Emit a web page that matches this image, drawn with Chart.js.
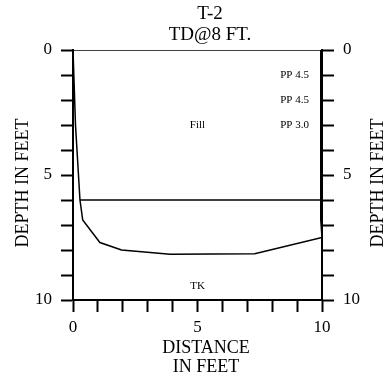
<!DOCTYPE html>
<html>
<head>
<meta charset="utf-8">
<script src="https://cdn.jsdelivr.net/npm/chart.js@4.4.1/dist/chart.umd.min.js"></script>
<style>
  html, body { margin: 0; padding: 0; background: #fff; }
  canvas { display: block; }
</style>
</head>
<body>
<canvas id="chart" width="386" height="378"></canvas>
<script>
// Titulo do perfil
const titleLines = ['T-2', 'TD@8 FT.'];
const xTitleLines = ['DISTANCE', 'IN FEET'];
const yTitle = 'DEPTH IN FEET';

// Rótulos dos eixos (apenas 0, 5, 10 recebem texto)
const labeledTicks = [0, 5, 10];

// Superfície do terreno
const surfaceX = [0, 10];
const surfaceY = [0, 0];

// Contorno da escavação (parede esquerda, fundo, parede direita)
const profileX = [0, 0.1, 0.28, 0.39, 1.08, 1.95, 3.9, 7.3, 10, 9.95, 9.95];
const profileY = [0, 3, 6, 6.8, 7.7, 8.0, 8.17, 8.15, 7.5, 6.8, 0];

// Contato Fill / TK
const contactX = [0.28, 10];
const contactY = [6, 6];

// Anotações
const noteText = ['PP 4.5', 'PP 4.5', 'PP 3.0', 'Fill', 'TK'];
const noteX = [8.9, 8.9, 8.9, 5, 5];
const noteY = [1, 2, 3, 3, 9.45];

const toPoints = (xs, ys) => xs.map((x, i) => ({x: x, y: ys[i]}));

const serif = 'Liberation Serif, Times New Roman, serif';

// Eixo de profundidade (usado nos dois lados)
function depthAxis(position, width) {
    return {
        type: 'linear',
        position: position,
        reverse: true,
        min: 0,
        max: 10,
        border: { display: true, color: '#000', width: 2 },
        grid: {
            drawOnChartArea: false,
            drawTicks: true,
            tickLength: 12,
            tickWidth: 2,
            tickColor: '#000'
        },
        ticks: {
            stepSize: 1,
            autoSkip: false,
            padding: 9,
            color: '#000',
            font: { family: serif, size: 17 },
            callback: v => labeledTicks.includes(v) ? String(v) : ''
        },
        afterFit: s => { s.width = width; }
    };
}

// Títulos desenhados à mão (posição deslocada como no original)
const textPlugin = {
    id: 'texts',
    afterDraw(chart) {
        const c = chart.ctx;
        const xs = chart.scales.x, ys = chart.scales.y;
        c.save();
        c.fillStyle = '#000';
        c.textAlign = 'center';
        c.textBaseline = 'middle';

        // título
        c.font = '19px ' + serif;
        c.fillText(titleLines[0], 210, 14);
        c.fillText(titleLines[1], 210, 35);

        // título do eixo X
        c.font = '18px ' + serif;
        c.fillText(xTitleLines[0], 206, 348);
        c.fillText(xTitleLines[1], 206, 367);

        // títulos dos eixos de profundidade (lidos de baixo para cima)
        [23, 378].forEach(px => {
            c.save();
            c.translate(px, 183);
            c.rotate(-Math.PI / 2);
            c.fillText(yTitle, 0, 0);
            c.restore();
        });

        // anotações
        c.font = '11px ' + serif;
        noteText.forEach((t, i) => {
            c.fillText(t, xs.getPixelForValue(noteX[i]), ys.getPixelForValue(noteY[i]));
        });
        c.restore();
    }
};

const lineStyle = {
    showLine: true,
    borderColor: '#000',
    backgroundColor: '#000',
    pointRadius: 0,
    fill: false,
    tension: 0,
    borderWidth: 1.5
};

let ctx = document.getElementById('chart');

let chart = new Chart(ctx, {
    type: 'scatter',
    data: {
        datasets: [
            Object.assign({ label: 'Superfície', data: toPoints(surfaceX, surfaceY) }, lineStyle),
            Object.assign({ label: 'Contorno', data: toPoints(profileX, profileY) }, lineStyle),
            Object.assign({ label: 'Contato', data: toPoints(contactX, contactY) }, lineStyle)
        ]
    },
    options: {
        responsive: false,
        animation: false,
        devicePixelRatio: 1,
        layout: { padding: { top: 50, left: 0, right: 0, bottom: 0 } },
        plugins: {
            legend: { display: false },
            title: { display: false },
            tooltip: { enabled: false }
        },
        scales: {
            x: {
                type: 'linear',
                position: 'bottom',
                min: 0,
                max: 10,
                border: { display: true, color: '#000', width: 2 },
                grid: {
                    drawOnChartArea: false,
                    drawTicks: true,
                    tickLength: 12,
                    tickWidth: 2,
                    tickColor: '#000'
                },
                ticks: {
                    stepSize: 1,
                    autoSkip: false,
                    maxRotation: 0,
                    padding: 5,
                    color: '#000',
                    font: { family: serif, size: 17 },
                    callback: v => labeledTicks.includes(v) ? String(v) : ''
                },
                afterFit: s => { s.height = 78; }
            },
            y: depthAxis('left', 73),
            y2: depthAxis('right', 64)
        }
    },
    plugins: [textPlugin]
});
</script>
</body>
</html>
